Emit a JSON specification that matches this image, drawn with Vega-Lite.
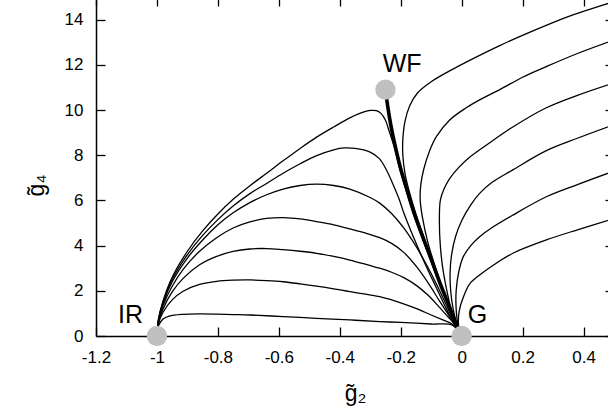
{
  "$schema": "https://vega.github.io/schema/vega-lite/v6.json",
  "width": 518,
  "height": 339,
  "autosize": {"type": "none"},
  "padding": {"left": 96, "top": -3, "right": -6, "bottom": 81},
  "config": {
    "view": {"stroke": null},
    "font": "Liberation Sans",
    "axis": {
      "grid": false,
      "domainColor": "#000",
      "domainWidth": 1.5,
      "tickColor": "#000",
      "tickWidth": 1.3,
      "tickSize": 9,
      "labelFlush": false,
      "labelColor": "#000",
      "labelFont": "Liberation Sans",
      "labelFontSize": 17,
      "titleFont": "Liberation Sans",
      "titleFontSize": 23,
      "titleFontWeight": "normal",
      "titleColor": "#000"
    }
  },
  "datasets": {
    "flows": [
      {"c":"L1","i":0,"x":-1,"y":0},{"c":"L1","i":1,"x":-0.995,"y":0.45},{"c":"L1","i":2,"x":-0.98,"y":0.75},{"c":"L1","i":3,"x":-0.96,"y":0.88},{"c":"L1","i":4,"x":-0.914,"y":0.96},{"c":"L1","i":5,"x":-0.86,"y":0.98},{"c":"L1","i":6,"x":-0.804,"y":0.97},{"c":"L1","i":7,"x":-0.75,"y":0.95},{"c":"L1","i":8,"x":-0.695,"y":0.93},{"c":"L1","i":9,"x":-0.586,"y":0.86},{"c":"L1","i":10,"x":-0.476,"y":0.78},{"c":"L1","i":11,"x":-0.367,"y":0.71},{"c":"L1","i":12,"x":-0.269,"y":0.64},{"c":"L1","i":13,"x":-0.2,"y":0.6},{"c":"L1","i":14,"x":-0.1,"y":0.53},{"c":"L1","i":15,"x":-0.03,"y":0.48},{"c":"L1","i":16,"x":0,"y":0},

      {"c":"L2","i":0,"x":-1,"y":0},{"c":"L2","i":1,"x":-0.995,"y":0.55},{"c":"L2","i":2,"x":-0.98,"y":1.05},{"c":"L2","i":3,"x":-0.95,"y":1.6},{"c":"L2","i":4,"x":-0.914,"y":1.98},{"c":"L2","i":5,"x":-0.86,"y":2.28},{"c":"L2","i":6,"x":-0.804,"y":2.42},{"c":"L2","i":7,"x":-0.75,"y":2.47},{"c":"L2","i":8,"x":-0.695,"y":2.48},{"c":"L2","i":9,"x":-0.64,"y":2.45},{"c":"L2","i":10,"x":-0.586,"y":2.4},{"c":"L2","i":11,"x":-0.53,"y":2.31},{"c":"L2","i":12,"x":-0.476,"y":2.21},{"c":"L2","i":13,"x":-0.42,"y":2.09},{"c":"L2","i":14,"x":-0.367,"y":1.96},{"c":"L2","i":15,"x":-0.302,"y":1.82},{"c":"L2","i":16,"x":-0.269,"y":1.74},{"c":"L2","i":17,"x":-0.2,"y":1.47},{"c":"L2","i":18,"x":-0.15,"y":1.22},{"c":"L2","i":19,"x":-0.1,"y":0.93},{"c":"L2","i":20,"x":-0.06,"y":0.7},{"c":"L2","i":21,"x":-0.03,"y":0.52},{"c":"L2","i":22,"x":0,"y":0},

      {"c":"L3","i":0,"x":-1,"y":0},{"c":"L3","i":1,"x":-0.995,"y":0.6},{"c":"L3","i":2,"x":-0.98,"y":1.2},{"c":"L3","i":3,"x":-0.95,"y":1.95},{"c":"L3","i":4,"x":-0.914,"y":2.55},{"c":"L3","i":5,"x":-0.86,"y":3.15},{"c":"L3","i":6,"x":-0.804,"y":3.52},{"c":"L3","i":7,"x":-0.75,"y":3.74},{"c":"L3","i":8,"x":-0.695,"y":3.85},{"c":"L3","i":9,"x":-0.64,"y":3.87},{"c":"L3","i":10,"x":-0.586,"y":3.82},{"c":"L3","i":11,"x":-0.53,"y":3.75},{"c":"L3","i":12,"x":-0.476,"y":3.66},{"c":"L3","i":13,"x":-0.42,"y":3.52},{"c":"L3","i":14,"x":-0.367,"y":3.36},{"c":"L3","i":15,"x":-0.302,"y":3.12},{"c":"L3","i":16,"x":-0.269,"y":3.0},{"c":"L3","i":17,"x":-0.23,"y":2.82},{"c":"L3","i":18,"x":-0.19,"y":2.58},{"c":"L3","i":19,"x":-0.15,"y":2.25},{"c":"L3","i":20,"x":-0.11,"y":1.8},{"c":"L3","i":21,"x":-0.075,"y":1.3},{"c":"L3","i":22,"x":-0.045,"y":0.85},{"c":"L3","i":23,"x":-0.022,"y":0.5},{"c":"L3","i":24,"x":0,"y":0},

      {"c":"L4","i":0,"x":-1,"y":0},{"c":"L4","i":1,"x":-0.995,"y":0.65},{"c":"L4","i":2,"x":-0.98,"y":1.35},{"c":"L4","i":3,"x":-0.95,"y":2.2},{"c":"L4","i":4,"x":-0.914,"y":2.95},{"c":"L4","i":5,"x":-0.86,"y":3.75},{"c":"L4","i":6,"x":-0.804,"y":4.35},{"c":"L4","i":7,"x":-0.75,"y":4.78},{"c":"L4","i":8,"x":-0.695,"y":5.05},{"c":"L4","i":9,"x":-0.64,"y":5.2},{"c":"L4","i":10,"x":-0.586,"y":5.24},{"c":"L4","i":11,"x":-0.53,"y":5.18},{"c":"L4","i":12,"x":-0.476,"y":5.06},{"c":"L4","i":13,"x":-0.42,"y":4.92},{"c":"L4","i":14,"x":-0.367,"y":4.74},{"c":"L4","i":15,"x":-0.302,"y":4.5},{"c":"L4","i":16,"x":-0.269,"y":4.35},{"c":"L4","i":17,"x":-0.23,"y":4.1},{"c":"L4","i":18,"x":-0.19,"y":3.7},{"c":"L4","i":19,"x":-0.15,"y":3.1},{"c":"L4","i":20,"x":-0.11,"y":2.35},{"c":"L4","i":21,"x":-0.075,"y":1.6},{"c":"L4","i":22,"x":-0.045,"y":0.98},{"c":"L4","i":23,"x":-0.022,"y":0.52},{"c":"L4","i":24,"x":0,"y":0},

      {"c":"L5","i":0,"x":-1,"y":0},{"c":"L5","i":1,"x":-0.995,"y":0.7},{"c":"L5","i":2,"x":-0.98,"y":1.45},{"c":"L5","i":3,"x":-0.95,"y":2.4},{"c":"L5","i":4,"x":-0.9,"y":3.45},{"c":"L5","i":5,"x":-0.85,"y":4.25},{"c":"L5","i":6,"x":-0.8,"y":4.92},{"c":"L5","i":7,"x":-0.75,"y":5.45},{"c":"L5","i":8,"x":-0.695,"y":5.9},{"c":"L5","i":9,"x":-0.64,"y":6.25},{"c":"L5","i":10,"x":-0.586,"y":6.5},{"c":"L5","i":11,"x":-0.53,"y":6.66},{"c":"L5","i":12,"x":-0.476,"y":6.72},{"c":"L5","i":13,"x":-0.42,"y":6.66},{"c":"L5","i":14,"x":-0.367,"y":6.5},{"c":"L5","i":15,"x":-0.302,"y":6.14},{"c":"L5","i":16,"x":-0.269,"y":5.88},{"c":"L5","i":17,"x":-0.23,"y":5.42},{"c":"L5","i":18,"x":-0.19,"y":4.78},{"c":"L5","i":19,"x":-0.15,"y":3.97},{"c":"L5","i":20,"x":-0.11,"y":3.02},{"c":"L5","i":21,"x":-0.075,"y":2.08},{"c":"L5","i":22,"x":-0.045,"y":1.22},{"c":"L5","i":23,"x":-0.022,"y":0.56},{"c":"L5","i":24,"x":0,"y":0},

      {"c":"L6","i":0,"x":-1,"y":0},{"c":"L6","i":1,"x":-0.995,"y":0.72},{"c":"L6","i":2,"x":-0.98,"y":1.5},{"c":"L6","i":3,"x":-0.95,"y":2.5},{"c":"L6","i":4,"x":-0.9,"y":3.6},{"c":"L6","i":5,"x":-0.85,"y":4.45},{"c":"L6","i":6,"x":-0.8,"y":5.15},{"c":"L6","i":7,"x":-0.75,"y":5.75},{"c":"L6","i":8,"x":-0.695,"y":6.3},{"c":"L6","i":9,"x":-0.64,"y":6.75},{"c":"L6","i":10,"x":-0.586,"y":7.2},{"c":"L6","i":11,"x":-0.53,"y":7.62},{"c":"L6","i":12,"x":-0.476,"y":7.98},{"c":"L6","i":13,"x":-0.42,"y":8.24},{"c":"L6","i":14,"x":-0.385,"y":8.32},{"c":"L6","i":15,"x":-0.35,"y":8.3},{"c":"L6","i":16,"x":-0.302,"y":8.15},{"c":"L6","i":17,"x":-0.27,"y":7.85},{"c":"L6","i":18,"x":-0.245,"y":7.3},{"c":"L6","i":19,"x":-0.225,"y":6.7},{"c":"L6","i":20,"x":-0.205,"y":6.05},{"c":"L6","i":21,"x":-0.19,"y":5.45},{"c":"L6","i":22,"x":-0.165,"y":4.6},{"c":"L6","i":23,"x":-0.14,"y":3.8},{"c":"L6","i":24,"x":-0.11,"y":2.9},{"c":"L6","i":25,"x":-0.08,"y":2.05},{"c":"L6","i":26,"x":-0.05,"y":1.2},{"c":"L6","i":27,"x":-0.025,"y":0.55},{"c":"L6","i":28,"x":0,"y":0},

      {"c":"L7","i":0,"x":-1,"y":0},{"c":"L7","i":1,"x":-0.995,"y":0.75},{"c":"L7","i":2,"x":-0.98,"y":1.55},{"c":"L7","i":3,"x":-0.95,"y":2.6},{"c":"L7","i":4,"x":-0.9,"y":3.75},{"c":"L7","i":5,"x":-0.85,"y":4.65},{"c":"L7","i":6,"x":-0.8,"y":5.4},{"c":"L7","i":7,"x":-0.75,"y":6.05},{"c":"L7","i":8,"x":-0.695,"y":6.65},{"c":"L7","i":9,"x":-0.64,"y":7.2},{"c":"L7","i":10,"x":-0.586,"y":7.75},{"c":"L7","i":11,"x":-0.53,"y":8.3},{"c":"L7","i":12,"x":-0.476,"y":8.8},{"c":"L7","i":13,"x":-0.42,"y":9.25},{"c":"L7","i":14,"x":-0.367,"y":9.65},{"c":"L7","i":15,"x":-0.33,"y":9.87},{"c":"L7","i":16,"x":-0.3,"y":9.98},{"c":"L7","i":17,"x":-0.28,"y":9.97},{"c":"L7","i":18,"x":-0.265,"y":9.85},{"c":"L7","i":19,"x":-0.25,"y":9.55},{"c":"L7","i":20,"x":-0.24,"y":9.15},{"c":"L7","i":21,"x":-0.222,"y":8.4},{"c":"L7","i":22,"x":-0.203,"y":7.4},{"c":"L7","i":23,"x":-0.181,"y":6.4},{"c":"L7","i":24,"x":-0.158,"y":5.4},{"c":"L7","i":25,"x":-0.131,"y":4.4},{"c":"L7","i":26,"x":-0.103,"y":3.4},{"c":"L7","i":27,"x":-0.072,"y":2.3},{"c":"L7","i":28,"x":-0.042,"y":1.3},{"c":"L7","i":29,"x":-0.021,"y":0.6},{"c":"L7","i":30,"x":0,"y":0},

      {"c":"RA","i":0,"x":0,"y":0},{"c":"RA","i":1,"x":-0.02,"y":0.6},{"c":"RA","i":2,"x":-0.04,"y":1.3},{"c":"RA","i":3,"x":-0.068,"y":2.3},{"c":"RA","i":4,"x":-0.098,"y":3.4},{"c":"RA","i":5,"x":-0.125,"y":4.4},{"c":"RA","i":6,"x":-0.15,"y":5.4},{"c":"RA","i":7,"x":-0.172,"y":6.4},{"c":"RA","i":8,"x":-0.186,"y":7.2},{"c":"RA","i":9,"x":-0.193,"y":8.0},{"c":"RA","i":10,"x":-0.193,"y":8.7},{"c":"RA","i":11,"x":-0.186,"y":9.5},{"c":"RA","i":12,"x":-0.17,"y":10.2},{"c":"RA","i":13,"x":-0.145,"y":10.75},{"c":"RA","i":14,"x":-0.1,"y":11.25},{"c":"RA","i":15,"x":-0.03,"y":11.8},{"c":"RA","i":16,"x":0.015,"y":12.12},{"c":"RA","i":17,"x":0.125,"y":12.85},{"c":"RA","i":18,"x":0.234,"y":13.5},{"c":"RA","i":19,"x":0.343,"y":14.1},{"c":"RA","i":20,"x":0.42,"y":14.45},{"c":"RA","i":21,"x":0.5,"y":14.8},

      {"c":"RB","i":0,"x":0,"y":0},{"c":"RB","i":1,"x":-0.02,"y":0.55},{"c":"RB","i":2,"x":-0.04,"y":1.25},{"c":"RB","i":3,"x":-0.065,"y":2.2},{"c":"RB","i":4,"x":-0.09,"y":3.2},{"c":"RB","i":5,"x":-0.112,"y":4.2},{"c":"RB","i":6,"x":-0.128,"y":5.2},{"c":"RB","i":7,"x":-0.136,"y":6.0},{"c":"RB","i":8,"x":-0.134,"y":6.7},{"c":"RB","i":9,"x":-0.124,"y":7.4},{"c":"RB","i":10,"x":-0.105,"y":8.2},{"c":"RB","i":11,"x":-0.083,"y":8.82},{"c":"RB","i":12,"x":-0.04,"y":9.55},{"c":"RB","i":13,"x":0.015,"y":10.1},{"c":"RB","i":14,"x":0.059,"y":10.45},{"c":"RB","i":15,"x":0.125,"y":10.9},{"c":"RB","i":16,"x":0.2,"y":11.45},{"c":"RB","i":17,"x":0.278,"y":11.92},{"c":"RB","i":18,"x":0.38,"y":12.5},{"c":"RB","i":19,"x":0.5,"y":13.1},

      {"c":"RC","i":0,"x":0,"y":0},{"c":"RC","i":1,"x":-0.018,"y":0.5},{"c":"RC","i":2,"x":-0.035,"y":1.2},{"c":"RC","i":3,"x":-0.05,"y":2.1},{"c":"RC","i":4,"x":-0.062,"y":3.0},{"c":"RC","i":5,"x":-0.07,"y":4.0},{"c":"RC","i":6,"x":-0.073,"y":5.0},{"c":"RC","i":7,"x":-0.07,"y":6.0},{"c":"RC","i":8,"x":-0.058,"y":6.5},{"c":"RC","i":9,"x":-0.04,"y":6.95},{"c":"RC","i":10,"x":-0.01,"y":7.45},{"c":"RC","i":11,"x":0.03,"y":7.95},{"c":"RC","i":12,"x":0.092,"y":8.55},{"c":"RC","i":13,"x":0.168,"y":9.25},{"c":"RC","i":14,"x":0.278,"y":10.1},{"c":"RC","i":15,"x":0.38,"y":10.65},{"c":"RC","i":16,"x":0.5,"y":11.2},

      {"c":"RD","i":0,"x":0,"y":0},{"c":"RD","i":1,"x":-0.015,"y":0.5},{"c":"RD","i":2,"x":-0.028,"y":1.2},{"c":"RD","i":3,"x":-0.036,"y":2.0},{"c":"RD","i":4,"x":-0.038,"y":2.8},{"c":"RD","i":5,"x":-0.033,"y":3.6},{"c":"RD","i":6,"x":-0.02,"y":4.4},{"c":"RD","i":7,"x":0.0,"y":5.1},{"c":"RD","i":8,"x":0.03,"y":5.8},{"c":"RD","i":9,"x":0.059,"y":6.31},{"c":"RD","i":10,"x":0.1,"y":6.8},{"c":"RD","i":11,"x":0.168,"y":7.35},{"c":"RD","i":12,"x":0.278,"y":8.2},{"c":"RD","i":13,"x":0.38,"y":8.75},{"c":"RD","i":14,"x":0.5,"y":9.35},

      {"c":"RE","i":0,"x":0,"y":0},{"c":"RE","i":1,"x":-0.012,"y":0.5},{"c":"RE","i":2,"x":-0.018,"y":1.2},{"c":"RE","i":3,"x":-0.018,"y":2.0},{"c":"RE","i":4,"x":-0.01,"y":2.8},{"c":"RE","i":5,"x":0.005,"y":3.5},{"c":"RE","i":6,"x":0.03,"y":4.0},{"c":"RE","i":7,"x":0.059,"y":4.39},{"c":"RE","i":8,"x":0.1,"y":4.8},{"c":"RE","i":9,"x":0.168,"y":5.35},{"c":"RE","i":10,"x":0.278,"y":6.16},{"c":"RE","i":11,"x":0.38,"y":6.7},{"c":"RE","i":12,"x":0.5,"y":7.3},

      {"c":"RF","i":0,"x":0,"y":0},{"c":"RF","i":1,"x":-0.01,"y":0.45},{"c":"RF","i":2,"x":-0.008,"y":1.1},{"c":"RF","i":3,"x":0.005,"y":1.7},{"c":"RF","i":4,"x":0.026,"y":2.3},{"c":"RF","i":5,"x":0.059,"y":2.7},{"c":"RF","i":6,"x":0.1,"y":3.1},{"c":"RF","i":7,"x":0.168,"y":3.66},{"c":"RF","i":8,"x":0.278,"y":4.25},{"c":"RF","i":9,"x":0.38,"y":4.7},{"c":"RF","i":10,"x":0.5,"y":5.2}
    ],
    "separatrix": [
      {"i":0,"x":-0.25,"y":10.9},{"i":1,"x":-0.243,"y":10.2},{"i":2,"x":-0.232,"y":9.3},{"i":3,"x":-0.218,"y":8.4},{"i":4,"x":-0.2,"y":7.4},{"i":5,"x":-0.178,"y":6.4},{"i":6,"x":-0.155,"y":5.4},{"i":7,"x":-0.128,"y":4.4},{"i":8,"x":-0.1,"y":3.4},{"i":9,"x":-0.07,"y":2.3},{"i":10,"x":-0.04,"y":1.3},{"i":11,"x":-0.02,"y":0.6},{"i":12,"x":0,"y":0}
    ],
    "fixed": [
      {"name":"IR","x":-1,"y":0},
      {"name":"G","x":0,"y":0},
      {"name":"WF","x":-0.25,"y":10.9}
    ],
    "labels": [
      {"name":"WF","x":-0.259,"y":11.68},
      {"name":"IR","x":-1.128,"y":0.56},
      {"name":"G","x":0.0197,"y":0.56}
    ]
  },
  "resolve": {"axis": {"x": "independent", "y": "independent"}},
  "layer": [
    {
      "data": {"name": "flows"},
      "mark": {"type": "line", "color": "#000", "strokeWidth": 1.3, "interpolate": "catmull-rom", "clip": true},
      "encoding": {
        "x": {"field": "x", "type": "quantitative",
              "scale": {"domain": [-1.2, 0.5], "nice": false, "zero": false},
              "axis": {"orient": "bottom", "values": [-1.2,-1,-0.8,-0.6,-0.4,-0.2,0,0.2,0.4], "ticks": false,
                       "labelExpr": "datum.value + ''", "labelPadding": 13,
                       "title": "g̃₂", "titleBaseline": "alphabetic", "titleY": 64}},
        "y": {"field": "y", "type": "quantitative",
              "scale": {"domain": [0, 15], "nice": false, "zero": false},
              "axis": {"orient": "left", "values": [0,2,4,6,8,10,12,14], "ticks": false,
                       "labelExpr": "datum.value + ''", "labelPadding": 13,
                       "title": "g̃₄", "titleBaseline": "middle", "titleX": -60, "titleY": 188, "titleAngle": -90}},
        "detail": {"field": "c"},
        "order": {"field": "i", "type": "quantitative"}
      }
    },
    {
      "data": {"name": "separatrix"},
      "mark": {"type": "line", "color": "#000", "strokeWidth": 3.6, "interpolate": "catmull-rom", "clip": true},
      "encoding": {
        "x": {"field": "x", "type": "quantitative",
              "axis": {"orient": "bottom", "offset": -9, "values": [-1.2,-1,-0.8,-0.6,-0.4,-0.2,0,0.2,0.4], "labels": false, "domain": false, "ticks": true, "tickSize": 9, "title": null}},
        "y": {"field": "y", "type": "quantitative",
              "axis": {"orient": "left", "offset": -9, "values": [0,2,4,6,8,10,12,14], "labels": false, "domain": false, "ticks": true, "tickSize": 9, "title": null}},
        "order": {"field": "i", "type": "quantitative"}
      }
    },
    {
      "data": {"name": "fixed"},
      "mark": {"type": "circle", "color": "#c0c0c0", "opacity": 1, "size": 415},
      "encoding": {
        "x": {"field": "x", "type": "quantitative",
              "axis": {"orient": "top", "offset": -9, "values": [-1.2,-1,-0.8,-0.6,-0.4,-0.2,0,0.2,0.4], "labels": false, "domain": false, "ticks": true, "tickSize": 9, "title": null}},
        "y": {"field": "y", "type": "quantitative",
              "axis": {"orient": "right", "offset": -9, "values": [0,2,4,6,8,10,12,14], "labels": false, "domain": false, "ticks": true, "tickSize": 9, "title": null}}
      }
    },
    {
      "data": {"name": "labels"},
      "mark": {"type": "text", "font": "Liberation Sans", "fontSize": 25, "align": "left", "baseline": "alphabetic", "color": "#000"},
      "encoding": {
        "x": {"field": "x", "type": "quantitative", "axis": null},
        "y": {"field": "y", "type": "quantitative", "axis": null},
        "text": {"field": "name"}
      }
    }
  ]
}
